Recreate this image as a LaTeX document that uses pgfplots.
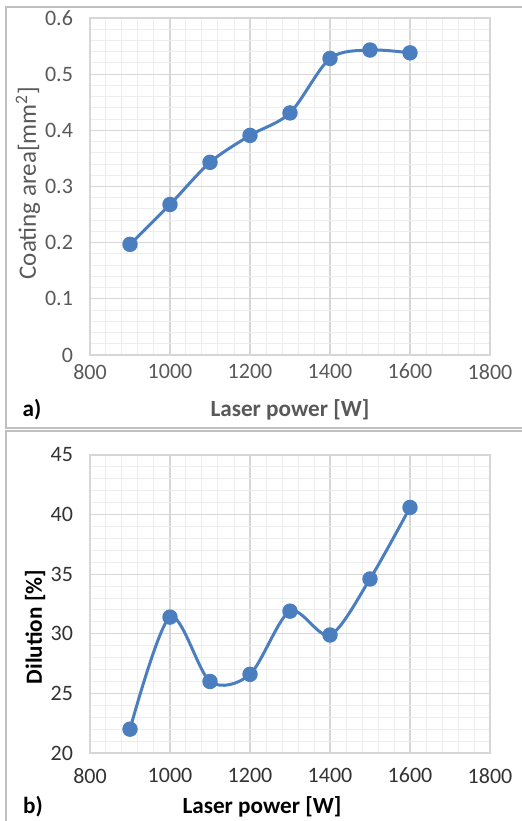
\documentclass[border=0pt]{standalone}
\usepackage{fontspec}
\setmainfont{Carlito}
\usepackage{pgfplots}
\pgfplotsset{compat=1.18}

\definecolor{lineblue}{HTML}{4A7EBE}
\definecolor{majgrid}{HTML}{D6D6D6}
\definecolor{mingrid}{HTML}{EDEDED}
\definecolor{txtgrey}{HTML}{595959}
\definecolor{frame}{HTML}{BFBFBF}

\pgfplotsset{
  excel/.style={
    scale only axis,
    width=200pt,
    xmin=800, xmax=1800,
    xtick={800,1000,...,1800},
    minor x tick num=4,
    minor y tick num=4,
    grid=both,
    major grid style={majgrid, line width=0.6pt},
    minor grid style={mingrid, line width=0.5pt},
    axis line style={majgrid, line width=0.6pt},
    tick style={draw=none},
    /pgf/number format/assume math mode=true,
    /pgf/number format/1000 sep={},
    tick label style={font=\fontsize{11}{13}\selectfont},
    yticklabel style={xshift=-5pt},
  },
  dots/.style={lineblue, line width=1.5pt, smooth, mark=*, mark size=3.1pt,
    mark options={fill=lineblue, draw=lineblue}},
}

\begin{document}
\begin{tikzpicture}[x=1pt,y=1pt]
\useasboundingbox (0,0) rectangle (260.5,410.5);
% panel frames
\draw[frame, line width=0.7pt] (270,407) -- (3,407) -- (3,196.5) -- (270,196.5);
\draw[frame, line width=0.7pt] (270,195) -- (3,195) -- (3,-5);

% panel a
\begin{axis}[excel,
  at={(45pt,233pt)}, anchor=south west,
  height=168.5pt,
  ymin=0, ymax=0.6,
  ytick={0,0.1,...,0.6},
  yticklabel style={/pgf/number format/fixed, /pgf/number format/precision=1},
  tick label style={text=txtgrey},
  xticklabel style={yshift=-1pt},
]
\addplot[dots] coordinates {
  (900,0.197) (1000,0.268) (1100,0.343) (1200,0.391)
  (1300,0.431) (1400,0.528) (1500,0.543) (1600,0.538)
};
\end{axis}
\node[text=txtgrey, font=\fontsize{11.6}{13}\selectfont\bfseries] at (145,205.5) {Laser power [W]};
\node[font=\fontsize{11.6}{13}\selectfont\bfseries] at (16,205.5) {a)};
\node[text=txtgrey, rotate=90, font=\fontsize{12.5}{14}\selectfont] at (14,319) {Coating area[mm\textsuperscript{2}]};

% panel b
\begin{axis}[excel,
  at={(45pt,34pt)}, anchor=south west,
  height=149pt,
  ymin=20, ymax=45,
  ytick={20,25,...,45},
  tick label style={text=black!80},
  xticklabel style={yshift=-4pt},
]
\addplot[dots] coordinates {
  (900,22.0) (1000,31.4) (1100,26.0) (1200,26.6)
  (1300,31.9) (1400,29.9) (1500,34.6) (1600,40.6)
};
\end{axis}
\node[font=\fontsize{11.6}{13}\selectfont\bfseries] at (131,7) {Laser power [W]};
\node[font=\fontsize{11.6}{13}\selectfont\bfseries] at (16.5,7) {b)};
\node[rotate=90, font=\fontsize{11.6}{13}\selectfont\bfseries] at (17.5,97) {Dilution [\%]};
\end{tikzpicture}
\end{document}
